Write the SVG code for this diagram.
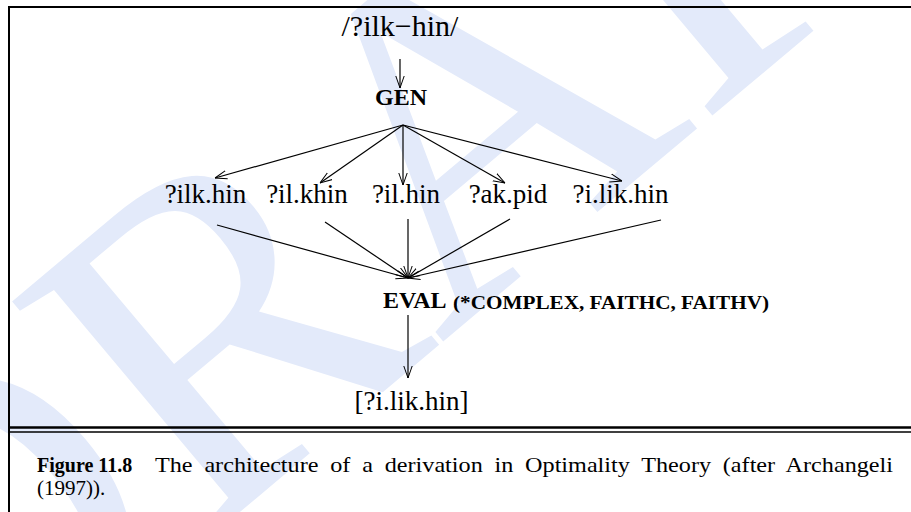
<svg xmlns="http://www.w3.org/2000/svg" width="911" height="512" viewBox="0 0 911 512">
<defs>
<style>
.t{font-family:"Liberation Serif","Times New Roman",serif;fill:#000}
.b{font-weight:bold}
.c{stroke:#000;stroke-width:1.2;fill:none}
.wm{font-family:"Liberation Serif","Times New Roman",serif;fill:#e3eafa}
</style>
<marker id="ah" viewBox="0 0 12 10" refX="12" refY="5" markerWidth="12" markerHeight="10" orient="auto" markerUnits="userSpaceOnUse">
<path d="M0,0.8 L12,5 L0,9.2" fill="none" stroke="#000" stroke-width="1"/>
</marker>
</defs>
<rect width="911" height="512" fill="#fff"/>
<g id="watermark">
<text class="wm" font-size="470" text-anchor="middle" dy=".33em" transform="translate(430,150) rotate(-40)">DRAFT</text>
</g>
<g id="frame" stroke="#000" fill="none">
<line x1="8" y1="7" x2="911" y2="7" stroke-width="2"/>
<line x1="9" y1="7" x2="9" y2="512" stroke-width="2"/>
<line x1="9" y1="427.5" x2="911" y2="427.5" stroke-width="2.5"/>
<line x1="9" y1="432" x2="911" y2="432" stroke-width="1.5"/>
</g>
<g id="connectors">
<line class="c" x1="400" y1="59" x2="400" y2="88" marker-end="url(#ah)"/>
<line class="c" x1="403" y1="125" x2="215" y2="178" marker-end="url(#ah)"/>
<line class="c" x1="403" y1="125" x2="320" y2="183" marker-end="url(#ah)"/>
<line class="c" x1="403" y1="125" x2="403" y2="185" marker-end="url(#ah)"/>
<line class="c" x1="403" y1="125" x2="505" y2="183" marker-end="url(#ah)"/>
<line class="c" x1="403" y1="125" x2="622" y2="181" marker-end="url(#ah)"/>
<line class="c" x1="217" y1="225" x2="408" y2="278" marker-end="url(#ah)"/>
<line class="c" x1="325" y1="222" x2="408" y2="278" marker-end="url(#ah)"/>
<line class="c" x1="408" y1="219" x2="408" y2="278" marker-end="url(#ah)"/>
<line class="c" x1="510" y1="219" x2="408" y2="278" marker-end="url(#ah)"/>
<line class="c" x1="661" y1="220" x2="408" y2="278" marker-end="url(#ah)"/>
<line class="c" x1="408" y1="315" x2="408" y2="378" marker-end="url(#ah)"/>
</g>
<g id="input"><text class="t" x="400" y="36" font-size="30" text-anchor="middle">/?ilk−hin/</text></g>
<g id="gen"><text class="t b" x="401" y="105" font-size="24" text-anchor="middle">GEN</text></g>
<g id="cand1"><text class="t" x="205.5" y="203" font-size="27" text-anchor="middle">?ilk.hin</text></g>
<g id="cand2"><text class="t" x="307" y="203" font-size="27" text-anchor="middle">?il.khin</text></g>
<g id="cand3"><text class="t" x="406" y="203" font-size="27" text-anchor="middle">?il.hin</text></g>
<g id="cand4"><text class="t" x="508" y="203" font-size="27" text-anchor="middle">?ak.pid</text></g>
<g id="cand5"><text class="t" x="620.5" y="203" font-size="27" text-anchor="middle">?i.lik.hin</text></g>
<g id="eval">
<text class="t b" x="383" y="308" font-size="24">EVAL</text>
<text class="t b" x="453" y="309" font-size="19" textLength="316" lengthAdjust="spacingAndGlyphs">(*COMPLEX, FAITHC, FAITHV)</text>
</g>
<g id="output"><text class="t" x="411.5" y="410" font-size="27" text-anchor="middle">[?i.lik.hin]</text></g>
<g id="caption">
<text class="t b" x="37" y="472" font-size="20">Figure 11.8</text>
<text class="t" x="155" y="472" font-size="21" word-spacing="5" textLength="738" lengthAdjust="spacingAndGlyphs">The architecture of a derivation in Optimality Theory (after Archangeli</text>
<text class="t" x="37" y="495" font-size="21">(1997)).</text>
</g>
</svg>
